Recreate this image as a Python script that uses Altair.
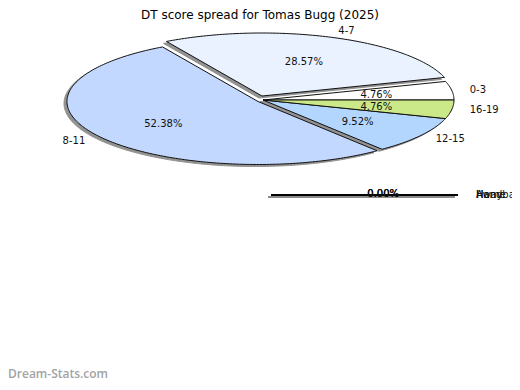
import math
import altair as alt
import pandas as pd

# ---------------- data ----------------
TITLE = "DT score spread for Tomas Bugg (2025)"
categories = ["0-3", "4-7", "8-11", "12-15", "16-19"]
games = [1, 6, 11, 2, 1]
colors = ["#FFFFFF", "#EAF1FF", "#C3D8FF", "#B3D6FF", "#CCE98A"]

categories2 = ["Home", "Away", "Handball"]
games2 = [0, 0, 0]
WATERMARK = "Dream-Stats.com"

# ---------------- layout (chart pixels) ----------------
W, H = 504, 374
CX, CY, RX, RY = 255, 92, 191, 63
EXPLODE = {"4-7": (-1, -4), "8-11": (-5, 1.5)}
SHADOW = (-3, 2)
CX2, CY2, RX2, RY2 = 356.5, 187, 93.5, 0
FONT = "DejaVu Sans"
TXT = "#111111"


def pt(cx, cy, rx, ry, a):
    return cx + rx * math.cos(a), cy - ry * math.sin(a)


poly, pct, lab = [], [], []
total = sum(games)
acc = 0
for cat, g in zip(categories, games):
    a0 = 2 * math.pi * acc / total
    a1 = 2 * math.pi * (acc + g) / total
    acc += g
    dx, dy = EXPLODE.get(cat, (0, 0))
    cx, cy = CX + dx, CY + dy
    pts = [(cx, cy)]
    n = max(4, int(math.degrees(a1 - a0)))
    for k in range(n + 1):
        pts.append(pt(cx, cy, RX, RY, a0 + (a1 - a0) * k / n))
    for i, (x, y) in enumerate(pts):
        poly.append(dict(cat=cat, i=i, x=x, y=y, xs=x + SHADOW[0], ys=y + SHADOW[1]))
    m = (a0 + a1) / 2
    px, py = pt(cx, cy, 0.6 * RX, 0.6 * RY, m)
    pct.append(dict(cat=cat, label=f"{100 * g / total:.2f}%", x=px, y=py + 1))
    lx, ly = pt(cx, cy, RX + 18, RY + 7, m)
    lab.append(dict(cat=cat, x=lx, y=ly, side="left" if math.cos(m) >= 0 else "right"))

poly = pd.DataFrame(poly)
pct = pd.DataFrame(pct)
lab = pd.DataFrame(lab)

# second (empty) pie: all values zero -> flat outline
poly2, pct2, lab2 = [], [], []
total2 = sum(games2)
for cat, g in zip(categories2, games2):
    share = (g / total2) if total2 else 0.0
    n = 90
    for k in range(n + 1):
        x, y = pt(CX2, CY2, RX2, RY2, 2 * math.pi * k / n)
        poly2.append(dict(cat=cat, i=k, x=x, y=y, xs=x + SHADOW[0], ys=y + SHADOW[1]))
    pct2.append(dict(cat=cat, label=f"{100 * share:.2f}%", x=CX2 + 0.2 * RX2, y=CY2 - 1))
    lab2.append(dict(cat=cat, x=CX2 + RX2 + 18, y=CY2))
poly2 = pd.DataFrame(poly2)
pct2 = pd.DataFrame(pct2)
lab2 = pd.DataFrame(lab2)

xs = alt.Scale(domain=[0, W], nice=False, zero=False)
ys = alt.Scale(domain=[0, H], nice=False, zero=False, reverse=True)


def X(f):
    return alt.X(f"{f}:Q", scale=xs, axis=None)


def Y(f):
    return alt.Y(f"{f}:Q", scale=ys, axis=None)


fill_scale = alt.Scale(domain=categories, range=colors)

shadow = alt.Chart(poly).mark_line(
    interpolate="linear-closed", fill="#929292", stroke="#929292", strokeWidth=1
).encode(x=X("xs"), y=Y("ys"), detail="cat:N", order="i:Q")

slices = alt.Chart(poly).mark_line(
    interpolate="linear-closed", stroke="#111111", strokeWidth=1
).encode(
    x=X("x"), y=Y("y"), detail="cat:N", order="i:Q",
    fill=alt.Fill("cat:N", scale=fill_scale, legend=None),
)

pct_text = alt.Chart(pct).mark_text(
    font=FONT, fontSize=10, color=TXT, align="center", baseline="middle"
).encode(x=X("x"), y=Y("y"), text="label:N")

lab_left = alt.Chart(lab[lab.side == "left"]).mark_text(
    font=FONT, fontSize=10, color=TXT, align="left", baseline="middle"
).encode(x=X("x"), y=Y("y"), text="cat:N")

lab_right = alt.Chart(lab[lab.side == "right"]).mark_text(
    font=FONT, fontSize=10, color=TXT, align="right", baseline="middle"
).encode(x=X("x"), y=Y("y"), text="cat:N")

shadow2 = alt.Chart(poly2).mark_line(
    interpolate="linear-closed", stroke="#8a8a8a", strokeWidth=1
).encode(x=X("xs"), y=Y("ys"), detail="cat:N", order="i:Q")

outline2 = alt.Chart(poly2).mark_line(
    interpolate="linear-closed", stroke="#000000", strokeWidth=1.6
).encode(x=X("x"), y=Y("y"), detail="cat:N", order="i:Q")

pct_text2 = alt.Chart(pct2).mark_text(
    font=FONT, fontSize=10, color=TXT, align="center", baseline="middle"
).encode(x=X("x"), y=Y("y"), text="label:N")

lab_text2 = alt.Chart(lab2).mark_text(
    font=FONT, fontSize=10, color=TXT, align="left", baseline="middle"
).encode(x=X("x"), y=Y("y"), text="cat:N")

title = alt.Chart(pd.DataFrame({"t": [TITLE]})).mark_text(
    font=FONT, fontSize=12, color="#000000", align="center", baseline="top"
).encode(x=alt.value(W / 2), y=alt.value(2), text="t:N")

mark = alt.Chart(pd.DataFrame({"t": [WATERMARK]})).mark_text(
    font="Open Sans", fontSize=12, fontWeight=600, color="#a3a3a3",
    align="left", baseline="alphabetic"
).encode(x=alt.value(0), y=alt.value(370), text="t:N")

chart = alt.layer(
    shadow, slices, pct_text, lab_left, lab_right,
    shadow2, outline2, pct_text2, lab_text2, title, mark,
).properties(
    width=W, height=H, padding=0,
    autosize=alt.AutoSizeParams(type="none"),
).configure_view(stroke=None)

chart.save("out.html", embed_options={"renderer": "svg", "actions": False})
